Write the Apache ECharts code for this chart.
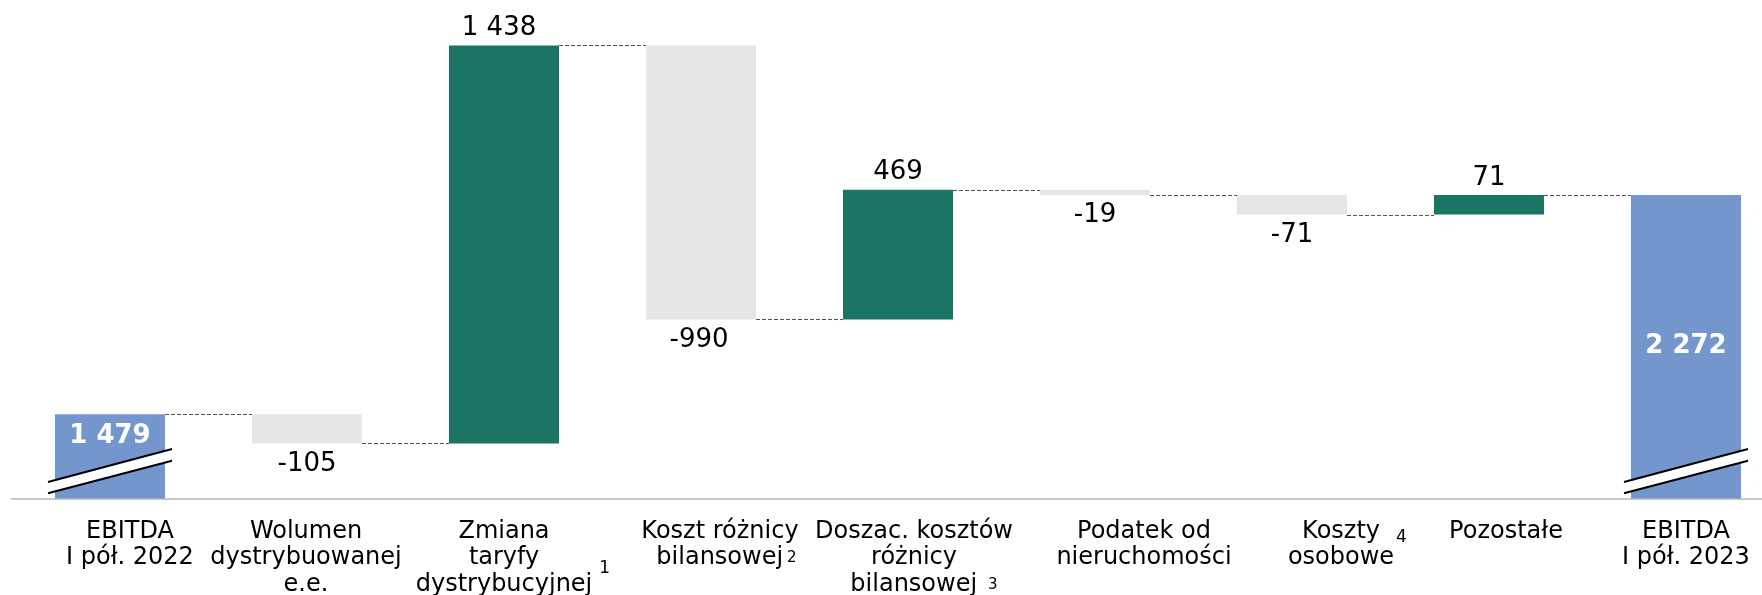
<!DOCTYPE html>
<html><head><meta charset="utf-8">
<script src="https://cdn.jsdelivr.net/npm/echarts@6/dist/echarts.min.js"></script>
<style>html,body{margin:0;padding:0;background:#fff}#c{width:1762px;height:595px}</style>
</head><body><div id="c"></div>
<script>
// ---- data ----
const categories = ['EBITDA\nI pół. 2022','Wolumen\ndystrybuowanej\ne.e.','Zmiana\ntaryfy\ndystrybucyjnej','Koszt różnicy\nbilansowej','Doszac. kosztów\nróżnicy\nbilansowej','Podatek od\nnieruchomości','Koszty\nosobowe','Pozostałe','EBITDA\nI pół. 2023'];
const footnotes = ['','','1','2','3','','4','',''];
const changes = [1479,-105,1438,-990,469,-19,-71,71,2272];
const isTotal = [true,false,false,false,false,false,false,false,true];
const axisMin = 1175, axisMax = 2904;

// ---- styling / layout ----
const FONT = 'DejaVu Sans';
const BAR_W = 110;
const C_TOTAL = '#7397CC', C_UP = '#1B7464', C_DOWN = '#E6E6E6';
const labelOffsets = [20,-1,0,19,16,49,49,17,0];
const valueLabelDx = [0,0,-5,-2,0,0,0,0,0];
// footnote placement: which line, gap before it, vertical style
const notePlace = {
  2:{line:1, gap:60, style:'hi', fs:17, w:11},
  3:{line:1, gap:4, style:'lo', fs:15, w:9},
  4:{line:2, gap:11, style:'lo', fs:15, w:9},
  6:{line:0, gap:16, style:'mid', fs:17, w:11}
};

// ---- waterfall computation ----
let level = 0;
const baseVals = [], barVals = [], afterLevels = [];
changes.forEach((d,i)=>{
  if (isTotal[i]) { baseVals.push(0); barVals.push(d); level = d; }
  else if (d >= 0) { baseVals.push(level); barVals.push(d); level += d; }
  else { baseVals.push(level + d); barVals.push(-d); level += d; }
  afterLevels.push(level);
});
const fmt = v => String(v).replace(/\B(?=(\d{3})+(?!\d))/g, ' ');

const barData = barVals.map((v,i)=>{
  const d = changes[i];
  const item = {value:v, itemStyle:{color: isTotal[i] ? C_TOTAL : (d >= 0 ? C_UP : C_DOWN)}};
  if (isTotal[i]) {
    item.label = {show:true, position: i === 0 ? 'insideTop' : 'inside', distance:9,
      color:'#fff', fontWeight:'bold', fontSize:26, fontFamily:FONT, formatter:()=>fmt(d)};
  } else {
    item.label = {show:true, position: d >= 0 ? 'top' : 'bottom', distance: d >= 0 ? 4 : 7.5,
      offset:[valueLabelDx[i], 0],
      color:'#000', fontSize:26, fontFamily:FONT, formatter:()=>fmt(d)};
  }
  return item;
});

const connectorData = afterLevels.slice(0, -1).map((l,i)=>[i, l]);
const breakData = isTotal.map((t,i)=> t ? [i, axisMin] : null).filter(Boolean);

const catData = categories.map((c,i)=>{
  const o = labelOffsets[i];
  return {value:c, textStyle:{padding:[0, o<0 ? -2*o : 0, 0, o>0 ? 2*o : 0]}};
});

const rich = {};
Object.keys(notePlace).forEach(k=>{
  const p = notePlace[k];
  rich['b'+k] = {width: p.gap + p.w, fontSize:14, lineHeight:14};
  const base = {fontSize:p.fs, fontFamily:FONT, color:'#000', padding:[0,0,0,p.gap]};
  if (p.style === 'hi') rich['s'+k] = Object.assign(base, {lineHeight:14, height:5, verticalAlign:'bottom'});
  else if (p.style === 'mid') rich['s'+k] = Object.assign(base, {lineHeight:14, height:14, verticalAlign:'bottom'});
  else rich['s'+k] = Object.assign(base, {lineHeight:14, verticalAlign:'middle'});
});

const chart = echarts.init(document.getElementById('c'), null, {renderer:'canvas'});
chart.setOption({
  animation:false,
  backgroundColor:'#fff',
  grid:{left:11.5, top:20, width:1773, height:478.5, containLabel:false, outerBoundsMode:'none'},
  xAxis:{
    type:'category', data:catData,
    axisTick:{show:false},
    axisLine:{lineStyle:{color:'#C9C9C9', width:2}},
    axisLabel:{
      interval:0, margin:20, color:'#000', fontFamily:FONT, fontSize:24, lineHeight:26.5,
      formatter:(value, idx)=>{
        const lines = value.split('\n');
        const p = notePlace[idx];
        if (p) lines[p.line] = '{b'+idx+'| }' + lines[p.line] + '{s'+idx+'|' + footnotes[idx] + '}';
        return lines.join('\n');
      },
      rich
    }
  },
  yAxis:{type:'value', min:axisMin, max:axisMax, show:false, splitLine:{show:false}},
  series:[
    {type:'bar', stack:'w', barWidth:BAR_W, data:baseVals, itemStyle:{color:'transparent'}, silent:true},
    {type:'bar', stack:'w', barWidth:BAR_W, data:barData},
    {type:'custom', z:5, clip:false, silent:true, data:connectorData, encode:{x:0,y:1},
      renderItem:(params, api)=>{
        const p = api.coord([api.value(0), api.value(1)]);
        const band = api.size([1,0])[0];
        const y = Math.round(p[1]) + 0.5;
        return {type:'line', shape:{x1:p[0]+BAR_W/2, y1:y, x2:p[0]+band-BAR_W/2, y2:y},
          style:{stroke:'#555', lineWidth:1, lineDash:[4,2]}};
      }},
    {type:'custom', z:6, clip:false, silent:true, data:breakData, encode:{x:0,y:1},
      renderItem:(params, api)=>{
        const p = api.coord([api.value(0), api.value(1)]);
        const cx = p[0], by = p[1], hw = 62;
        const u0=[cx-hw, by-16.5], u1=[cx+hw, by-49.5], l0=[cx-hw, by-5.2], l1=[cx+hw, by-37.8];
        return {type:'group', children:[
          {type:'polygon', shape:{points:[u0,u1,l1,l0]}, style:{fill:'#fff'}},
          {type:'line', shape:{x1:u0[0],y1:u0[1],x2:u1[0],y2:u1[1]}, style:{stroke:'#000', lineWidth:2}},
          {type:'line', shape:{x1:l0[0],y1:l0[1],x2:l1[0],y2:l1[1]}, style:{stroke:'#000', lineWidth:2}}
        ]};
      }}
  ]
});
</script></body></html>
